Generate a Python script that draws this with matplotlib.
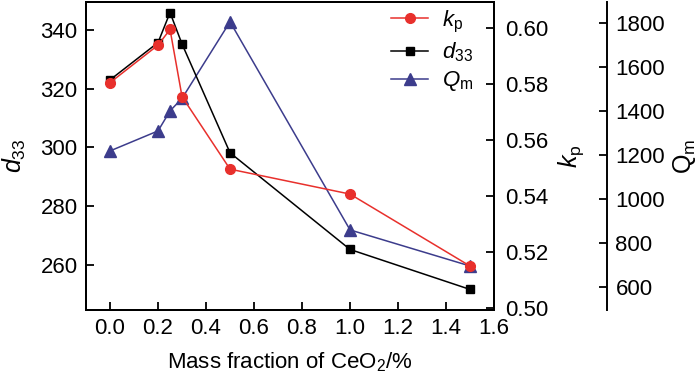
import matplotlib.pyplot as plt

plt.rcParams['font.family'] = ['Liberation Sans', 'DejaVu Sans']
plt.rcParams['mathtext.fontset'] = 'custom'
plt.rcParams['mathtext.rm'] = 'Liberation Sans'
plt.rcParams['mathtext.it'] = 'Liberation Sans:italic'
plt.rcParams['font.size'] = 16

# CeO2 mass fraction (%)
ceo2 = [0.0, 0.2, 0.25, 0.3, 0.5, 1.0, 1.5]
d33 = [323, 335.7, 345.9, 335.2, 298.2, 265.3, 251.7]
kp = [0.5806, 0.594, 0.5996, 0.5756, 0.5497, 0.5408, 0.5151]
qm = [1220, 1311, 1402, 1459, 1807, 861, 697]

xticks = [0.0, 0.2, 0.4, 0.6, 0.8, 1.0, 1.2, 1.4, 1.6]
d33_ticks = [260, 280, 300, 320, 340]
kp_ticks = [0.50, 0.52, 0.54, 0.56, 0.58, 0.60]
qm_ticks = [600, 800, 1000, 1200, 1400, 1600, 1800]

red = '#e8302c'
navy = '#3c3c8c'

fig = plt.figure(figsize=(7, 3.76), dpi=100)
ax = fig.add_axes([0.1229, 0.1755, 0.5829, 0.8192])
ax2 = ax.twinx()
ax3 = ax.twinx()
ax3.spines['right'].set_position(('axes', 1.277))
for sp in ['top', 'left', 'bottom']:
    ax3.spines[sp].set_visible(False)

# draw order: Qm at the back, then d33, then kp on top
ax3.set_zorder(1)
ax.set_zorder(2)
ax2.set_zorder(3)
ax.patch.set_visible(False)
ax2.patch.set_visible(False)

l_d33, = ax.plot(ceo2, d33, '-s', color='black', lw=1.1, ms=5.8)
l_kp, = ax2.plot(ceo2, kp, '-o', color=red, lw=1.1, ms=7)
l_qm, = ax3.plot(ceo2, qm, '-^', color=navy, lw=1.1, ms=8)

ax.set_xlim(-0.1, 1.6)
ax.set_ylim(244.7, 349.5)
ax2.set_ylim(0.4994, 0.6094)
ax3.set_ylim(497, 1897)

ax.set_xticks(xticks)
ax.set_xticklabels([f'{v:.1f}' for v in xticks])
ax.set_yticks(d33_ticks)
ax2.set_yticks(kp_ticks)
ax2.set_yticklabels([f'{v:.2f}' for v in kp_ticks])
ax3.set_yticks(qm_ticks)

for a in (ax, ax2, ax3):
    a.tick_params(direction='in', length=6, width=1.3, labelsize=16)
    for sp in a.spines.values():
        sp.set_linewidth(1.4)
ax.tick_params(axis='x', pad=6)
ax.tick_params(axis='y', pad=6)
ax2.tick_params(axis='y', pad=8)
ax3.tick_params(axis='y', pad=6)

ax.set_xlabel('Mass fraction of CeO$_2$/%', fontsize=16, labelpad=8)
ax.set_ylabel('$d_{33}$', fontsize=18, labelpad=9)
ax2.set_ylabel('$k_{\\mathrm{p}}$', fontsize=18, labelpad=6)
ax3.set_ylabel('Q$_\\mathrm{m}$', fontsize=18, labelpad=4)

ax2.legend([l_kp, l_d33, l_qm],
           ['$k_{\\mathrm{p}}$', '$d_{33}$', '$Q_{\\mathrm{m}}$'],
           loc='upper right', bbox_to_anchor=(0.965, 1.0),
           frameon=False, fontsize=16, handlelength=1.7,
           handletextpad=0.6, labelspacing=0.25, borderaxespad=0.0,
           borderpad=0.3)

fig.savefig('out.png', dpi=100)
